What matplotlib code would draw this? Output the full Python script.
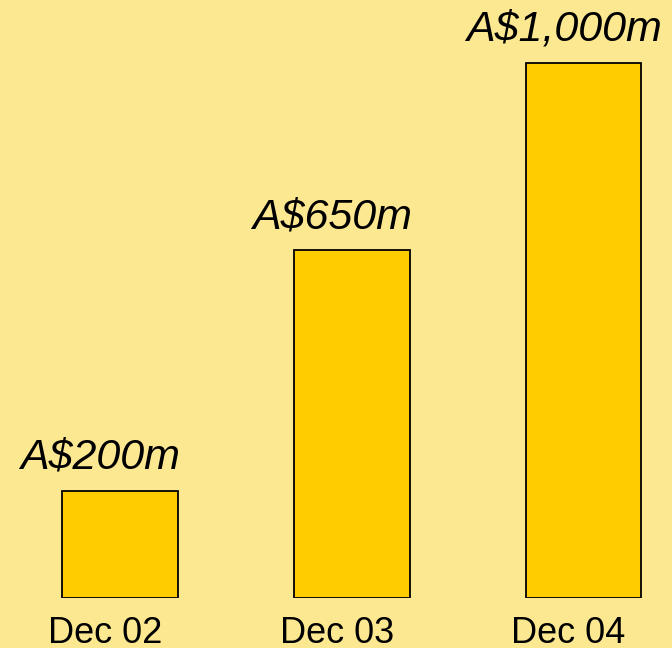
import matplotlib.pyplot as plt
import matplotlib.transforms as mtransforms

periods = ["Dec 02", "Dec 03", "Dec 04"]
values = [200, 650, 1000]
labels = ["A$200m", "A$650m", "A$1,000m"]

bg = "#FDE892"
bar_color = "#FFCC00"

plt.rcParams['font.family'] = ['Liberation Sans', 'DejaVu Sans']

fig = plt.figure(figsize=(6.72, 6.48), dpi=100, facecolor=bg)
ax = fig.add_axes([0, 50 / 648, 1, 598 / 648])
ax.set_facecolor(bg)

x = range(len(periods))
bars = ax.bar(x, values, width=0.5, color=bar_color, edgecolor="black", linewidth=1.3)

for b, lab in zip(bars, labels):
    ax.annotate(lab, (b.get_x() + b.get_width() / 2, b.get_height()),
                xytext=(-14, 16), textcoords="offset points",
                ha="center", va="baseline", fontsize=31, style="italic")

ax.set_xlim(-120 / 231.75, 552 / 231.75)
ax.set_ylim(0, 598 / 0.535)
ax.set_xticks(list(x))
ax.set_xticklabels(periods, fontsize=26)
ax.tick_params(axis="x", length=0, pad=13)
# nudge category labels a little to the left of the bar centres
shift = mtransforms.ScaledTranslation(-15 / 100, 0, fig.dpi_scale_trans)
for t in ax.get_xticklabels():
    t.set_transform(t.get_transform() + shift)
ax.set_yticks([])
for s in ax.spines.values():
    s.set_visible(False)

fig.savefig("out.png", dpi=100, facecolor=bg)
